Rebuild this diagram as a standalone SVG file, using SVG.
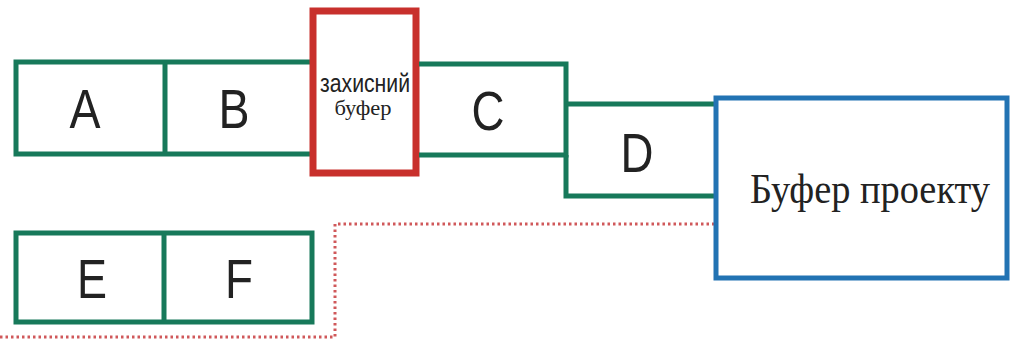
<svg xmlns="http://www.w3.org/2000/svg" width="1011" height="339" viewBox="0 0 1011 339">
  <style>
    .task { fill: none; stroke: #17795a; stroke-width: 5; }
    .feed { fill: #ffffff; stroke: #c8302c; stroke-width: 7; }
    .proj { fill: #ffffff; stroke: #2273b3; stroke-width: 5; }
    .link { fill: none; stroke: #d0585a; stroke-width: 3; stroke-dasharray: 2.5 3; }
    .lbl { font-family: "Liberation Sans", Arial, sans-serif; font-size: 56px; fill: #222222; text-anchor: middle; }
    .ser { font-family: "Liberation Serif", "Times New Roman", serif; fill: #222222; text-anchor: middle; }
  </style>
  <rect width="1011" height="339" fill="#ffffff"/>

  <!-- dotted connector from the E-F chain into the project buffer -->
  <g id="connectors">
    <path class="link" d="M0 337 H335 V224 H715"/>
  </g>

  <g id="task-A">
    <path class="task" d="M312 62 H16 V154 H312 M165 62 V154"/>
    <text class="lbl" x="85" y="128" textLength="31" lengthAdjust="spacingAndGlyphs">A</text>
  </g>
  <g id="task-B">
    <text class="lbl" x="234" y="128" textLength="31" lengthAdjust="spacingAndGlyphs">B</text>
  </g>

  <g id="feeding-buffer">
    <rect class="feed" x="313" y="11" width="103" height="162"/>
    <text x="365" y="92" font-family="Liberation Sans, Arial, sans-serif" font-size="25" fill="#222222" text-anchor="middle" textLength="90" lengthAdjust="spacingAndGlyphs">захисний</text>
    <text class="ser" x="363" y="115" font-size="20" textLength="57" lengthAdjust="spacingAndGlyphs">буфер</text>
  </g>

  <g id="task-C">
    <path class="task" d="M419 64 H566 V155 H419"/>
    <text class="lbl" x="488" y="130" textLength="33" lengthAdjust="spacingAndGlyphs">C</text>
  </g>

  <g id="task-D">
    <path class="task" d="M566 155 V196 H715 M566 104 H715"/>
    <text class="lbl" x="637" y="172" textLength="33" lengthAdjust="spacingAndGlyphs">D</text>
  </g>

  <g id="project-buffer">
    <rect class="proj" x="716" y="98" width="291" height="180"/>
    <text class="ser" x="870" y="203" font-size="42" textLength="240" lengthAdjust="spacingAndGlyphs">Буфер проекту</text>
  </g>

  <g id="task-E">
    <path class="task" d="M16 233 H312 V322 H16 Z M164 233 V322"/>
    <text class="lbl" x="92" y="298" textLength="30" lengthAdjust="spacingAndGlyphs">E</text>
  </g>
  <g id="task-F">
    <text class="lbl" x="239" y="298" textLength="28" lengthAdjust="spacingAndGlyphs">F</text>
  </g>
</svg>
